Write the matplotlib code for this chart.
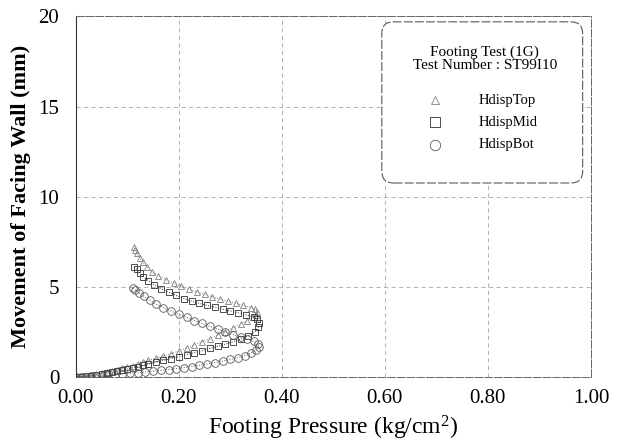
import matplotlib
matplotlib.use("Agg")
import matplotlib.pyplot as plt
from matplotlib.patches import FancyBboxPatch

plt.rcParams['font.family'] = 'serif'
plt.rcParams['font.serif'] = ['Liberation Serif']
plt.rcParams['mathtext.fontset'] = 'custom'
plt.rcParams['mathtext.rm'] = 'Liberation Serif'
plt.rcParams['mathtext.default'] = 'regular'

# Footing test ST99I10 - facing wall movement vs footing pressure
top_p = [0.0, 0.01, 0.02, 0.03, 0.04, 0.05, 0.06, 0.07, 0.08, 0.09, 0.10, 0.11, 0.12, 0.13,
         0.14, 0.155, 0.17, 0.185, 0.20, 0.215, 0.23, 0.245, 0.26, 0.275, 0.29, 0.305, 0.32,
         0.333, 0.343, 0.35, 0.352, 0.348, 0.34, 0.325, 0.31, 0.295, 0.28, 0.265, 0.25, 0.235,
         0.22, 0.205, 0.19, 0.175, 0.16, 0.148, 0.138, 0.13, 0.124, 0.119, 0.115, 0.112]
top_d = [0.0, 0.02, 0.05, 0.10, 0.15, 0.20, 0.27, 0.33, 0.40, 0.47, 0.55, 0.63, 0.72, 0.82,
         0.92, 1.03, 1.15, 1.30, 1.45, 1.60, 1.78, 1.95, 2.13, 2.32, 2.52, 2.72, 2.93,
         3.13, 3.30, 3.45, 3.60, 3.75, 3.85, 3.97, 4.08, 4.20, 4.32, 4.45, 4.58, 4.72,
         4.87, 5.03, 5.20, 5.40, 5.62, 5.85, 6.10, 6.35, 6.60, 6.85, 7.05, 7.20]

mid_p = [0.0, 0.01, 0.02, 0.03, 0.04, 0.05, 0.06, 0.07, 0.08, 0.09, 0.10, 0.11, 0.12, 0.13,
         0.14, 0.155, 0.17, 0.185, 0.20, 0.215, 0.23, 0.245, 0.26, 0.275, 0.29, 0.305, 0.32,
         0.335, 0.347, 0.354, 0.356, 0.352, 0.345, 0.33, 0.315, 0.30, 0.285, 0.27, 0.255, 0.24,
         0.225, 0.21, 0.195, 0.18, 0.165, 0.152, 0.14, 0.131, 0.124, 0.118, 0.113]
mid_d = [0.0, 0.02, 0.04, 0.08, 0.12, 0.17, 0.22, 0.27, 0.32, 0.38, 0.44, 0.50, 0.57, 0.64,
         0.72, 0.82, 0.92, 1.02, 1.13, 1.24, 1.35, 1.46, 1.58, 1.70, 1.82, 1.95, 2.10,
         2.28, 2.50, 2.75, 3.00, 3.20, 3.33, 3.45, 3.56, 3.66, 3.76, 3.86, 3.97, 4.08,
         4.20, 4.35, 4.52, 4.70, 4.90, 5.12, 5.35, 5.57, 5.78, 5.97, 6.10]

bot_p = [0.0, 0.01, 0.02, 0.03, 0.04, 0.05, 0.06, 0.075, 0.09, 0.105, 0.12, 0.135, 0.15,
         0.165, 0.18, 0.195, 0.21, 0.225, 0.24, 0.255, 0.27, 0.285, 0.30, 0.315, 0.328, 0.34,
         0.349, 0.355, 0.354, 0.345, 0.333, 0.32, 0.305, 0.29, 0.275, 0.26, 0.245, 0.23, 0.215,
         0.20, 0.185, 0.17, 0.155, 0.143, 0.132, 0.122, 0.115, 0.111]
bot_d = [0.0, 0.01, 0.02, 0.04, 0.06, 0.08, 0.10, 0.13, 0.16, 0.20, 0.24, 0.28, 0.32,
         0.36, 0.41, 0.46, 0.52, 0.58, 0.65, 0.72, 0.80, 0.88, 0.97, 1.07, 1.18, 1.32,
         1.48, 1.65, 1.82, 1.97, 2.10, 2.22, 2.35, 2.50, 2.65, 2.80, 2.97, 3.13, 3.30,
         3.47, 3.65, 3.85, 4.05, 4.27, 4.48, 4.68, 4.83, 4.93]

x_ticks = [0.0, 0.2, 0.4, 0.6, 0.8, 1.0]
x_ticklabels = ['0.00', '0.20', '0.40', '0.60', '0.80', '1.00']
y_ticks = [0, 5, 10, 15, 20]

fig = plt.figure(figsize=(6.22, 4.44), dpi=100)
ax = fig.add_axes([0.122, 0.151, 0.828, 0.812])

series = [
    ('HdispTop', top_p, top_d, '^', 4.0, '0.5'),
    ('HdispMid', mid_p, mid_d, 's', 5.0, '0.2'),
    ('HdispBot', bot_p, bot_d, 'o', 5.5, '0.35'),
]
for name, p, d, mk, ms, col in series:
    ax.plot(p, d, linestyle=':', color=col, linewidth=0.7, marker=mk, markersize=ms,
            markerfacecolor='none', markeredgecolor=col, markeredgewidth=0.6, label=name)

ax.set_xlim(0, 1.0)
ax.set_ylim(0, 20)
ax.set_xticks(x_ticks)
ax.set_xticklabels(x_ticklabels)
ax.set_yticks(y_ticks)
ax.tick_params(axis='both', length=0, labelsize=15)
ax.tick_params(axis='x', pad=9)
ax.tick_params(axis='y', pad=12)
ax.grid(True, linestyle=(0, (5, 4)), linewidth=0.6, color='0.65')
ax.set_axisbelow(True)
for side in ['top', 'right', 'bottom']:
    ax.spines[side].set_linestyle((0, (8, 2)))
    ax.spines[side].set_linewidth(0.7)
    ax.spines[side].set_color('0.4')
ax.spines['left'].set_linewidth(0.8)
ax.spines['left'].set_color('0.2')

ax.set_xlabel('Footing Pressure (kg/cm$^{2}$)', fontsize=17, labelpad=4)
ax.set_ylabel('Movement of Facing Wall (mm)', fontsize=16, fontweight='bold', labelpad=5)

# Legend panel with rounded corners
box = FancyBboxPatch((0.594, 0.538), 0.39, 0.447, transform=ax.transAxes,
                     boxstyle='round,pad=0,rounding_size=0.023', mutation_aspect=1.43,
                     facecolor='white', edgecolor='0.35', linewidth=0.8,
                     linestyle=(0, (8, 2)), zorder=5)
ax.add_patch(box)
ax.text(0.794, 0.901, 'Footing Test (1G)', transform=ax.transAxes, ha='center', va='center',
        fontsize=11, zorder=6)
ax.text(0.794, 0.863, 'Test Number : ST99I10', transform=ax.transAxes, ha='center',
        va='center', fontsize=11, zorder=6)
for (name, p, d, mk, ms, col), yy in zip(series, [0.768, 0.707, 0.644]):
    ax.plot([0.697], [yy], transform=ax.transAxes, linestyle='none', marker=mk,
            markersize=ms + 2, markerfacecolor='none', markeredgecolor=col,
            markeredgewidth=0.6, zorder=6, clip_on=False)
    ax.text(0.781, yy, name, transform=ax.transAxes, ha='left', va='center',
            fontsize=10.5, zorder=6)

fig.savefig('out.png', dpi=100)
